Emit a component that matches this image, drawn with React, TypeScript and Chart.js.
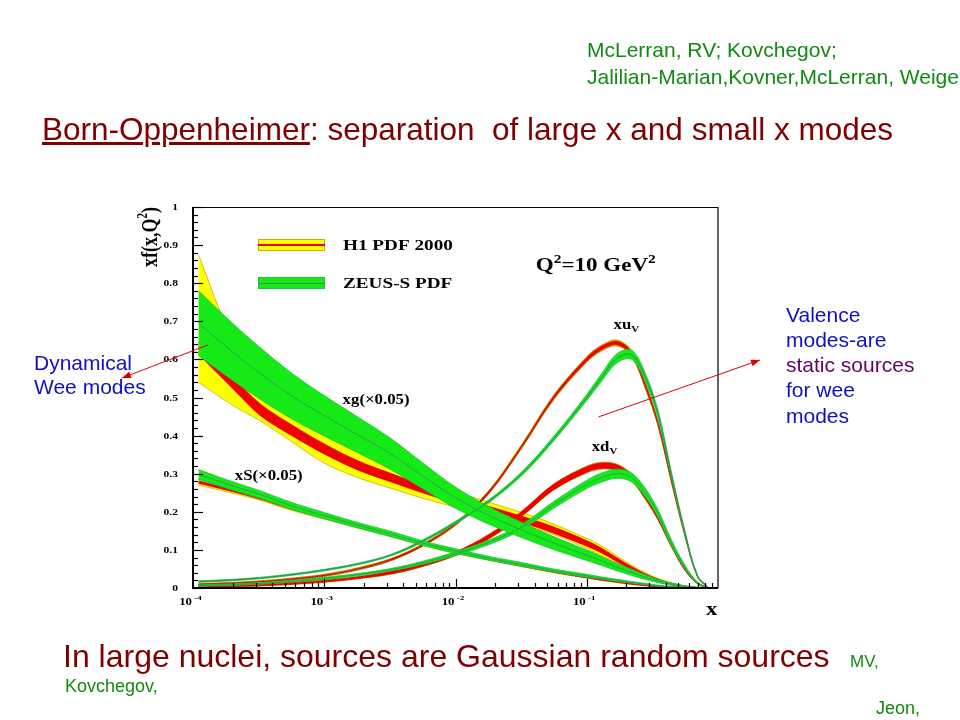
import React, { useEffect, useRef } from "react";
import { Chart, registerables } from "chart.js";

Chart.register(...registerables);

// ---- data (x grid shared by all curves) ----
const X_VALUES = [1.1e-4, 2e-4, 3.2e-4, 5.6e-4, 1e-3, 1.8e-3, 3.2e-3, 5.6e-3, 1e-2, 1.8e-2, 3.2e-2, 5.6e-2, 0.1, 0.13, 0.17, 0.22, 0.28, 0.35, 0.44, 0.56, 0.7, 0.85];

// gluon xg (x0.05)
const ZEUS_XG = [0.695, 0.62, 0.565, 0.505, 0.452, 0.402, 0.352, 0.295, 0.237, 0.19, 0.152, 0.118, 0.086, 0.071, 0.055, 0.041, 0.028, 0.018, 0.01, 0.004, 0.001, 0];
const ZEUS_XG_ERR = [0.085, 0.075, 0.068, 0.06, 0.053, 0.047, 0.041, 0.034, 0.028, 0.023, 0.02, 0.017, 0.014, 0.012, 0.01, 0.008, 0.006, 0.004, 0.003, 0.002, 0.001, 0];
const H1_XG = [0.63, 0.54, 0.47, 0.415, 0.365, 0.322, 0.29, 0.26, 0.232, 0.205, 0.18, 0.152, 0.117, 0.098, 0.074, 0.052, 0.034, 0.021, 0.011, 0.004, 0.001, 0];
const H1_XG_EXP = [0.016, 0.016, 0.015, 0.014, 0.013, 0.012, 0.011, 0.01, 0.009, 0.009, 0.008, 0.008, 0.007, 0.006, 0.005, 0.004, 0.003, 0.002, 0.0015, 0.001, 0.0005, 0];
const H1_XG_LO = [0.54, 0.48, 0.44, 0.385, 0.328, 0.29, 0.262, 0.236, 0.212, 0.188, 0.166, 0.14, 0.104, 0.084, 0.062, 0.043, 0.028, 0.017, 0.008, 0.003, 0.001, 0];
const H1_XG_HI = [0.875, 0.66, 0.6, 0.52, 0.455, 0.4, 0.352, 0.3, 0.255, 0.225, 0.198, 0.168, 0.13, 0.11, 0.084, 0.06, 0.04, 0.025, 0.014, 0.005, 0.001, 0];

// sea xS (x0.05)
const ZEUS_XS = [0.298, 0.268, 0.246, 0.216, 0.19, 0.165, 0.142, 0.118, 0.097, 0.078, 0.062, 0.046, 0.032, 0.026, 0.02, 0.015, 0.01, 0.006, 0.003, 0.001, 0, 0];
const ZEUS_XS_ERR = [0.013, 0.011, 0.01, 0.009, 0.008, 0.007, 0.007, 0.006, 0.006, 0.005, 0.005, 0.004, 0.004, 0.003, 0.003, 0.002, 0.002, 0.0015, 0.001, 0.0005, 0, 0];
const H1_XS = [0.278, 0.256, 0.237, 0.21, 0.186, 0.162, 0.139, 0.116, 0.095, 0.076, 0.059, 0.043, 0.028, 0.022, 0.016, 0.011, 0.007, 0.004, 0.002, 0.001, 0, 0];
const H1_XS_TOT = [0.008, 0.007, 0.006, 0.006, 0.005, 0.005, 0.004, 0.004, 0.004, 0.003, 0.003, 0.003, 0.002, 0.002, 0.002, 0.002, 0.001, 0.001, 0.001, 0.0005, 0, 0];
const H1_XS_EXP = [0.003, 0.003, 0.003, 0.003, 0.0025, 0.0025, 0.0025, 0.002, 0.002, 0.002, 0.002, 0.0015, 0.0015, 0.0015, 0.001, 0.001, 0.001, 0.001, 0.0005, 0.0005, 0, 0];

// valence xuV
const ZEUS_XUV = [0.017, 0.021, 0.026, 0.035, 0.047, 0.063, 0.086, 0.123, 0.172, 0.228, 0.3, 0.392, 0.5, 0.553, 0.603, 0.612, 0.552, 0.455, 0.3, 0.145, 0.03, 0];
const ZEUS_XUV_ERR = [0.002, 0.002, 0.002, 0.002, 0.002, 0.002, 0.002, 0.003, 0.003, 0.004, 0.005, 0.006, 0.008, 0.01, 0.012, 0.012, 0.011, 0.01, 0.008, 0.005, 0.002, 0];
const H1_XUV = [0.009, 0.012, 0.016, 0.023, 0.033, 0.05, 0.074, 0.112, 0.168, 0.252, 0.372, 0.5, 0.6, 0.63, 0.643, 0.615, 0.53, 0.43, 0.285, 0.14, 0.03, 0];
const H1_XUV_TOT = [0.003, 0.003, 0.003, 0.003, 0.003, 0.003, 0.003, 0.003, 0.004, 0.004, 0.005, 0.006, 0.007, 0.008, 0.008, 0.008, 0.007, 0.006, 0.005, 0.004, 0.002, 0];
const H1_XUV_EXP = [0.0015, 0.0015, 0.0015, 0.0015, 0.0015, 0.0015, 0.002, 0.002, 0.002, 0.003, 0.003, 0.004, 0.005, 0.005, 0.005, 0.005, 0.005, 0.004, 0.004, 0.003, 0.001, 0];

// valence xdV
const ZEUS_XDV = [0.006, 0.009, 0.012, 0.017, 0.025, 0.035, 0.048, 0.066, 0.09, 0.12, 0.16, 0.218, 0.272, 0.29, 0.3, 0.29, 0.25, 0.195, 0.12, 0.055, 0.013, 0];
const ZEUS_XDV_ERR = [0.002, 0.002, 0.002, 0.002, 0.003, 0.003, 0.003, 0.004, 0.005, 0.006, 0.007, 0.009, 0.011, 0.012, 0.012, 0.012, 0.011, 0.01, 0.008, 0.005, 0.002, 0];
const H1_XDV = [0.004, 0.006, 0.008, 0.012, 0.018, 0.027, 0.04, 0.06, 0.09, 0.135, 0.195, 0.265, 0.311, 0.321, 0.316, 0.29, 0.24, 0.185, 0.115, 0.05, 0.012, 0];
const H1_XDV_TOT = [0.003, 0.003, 0.003, 0.003, 0.003, 0.003, 0.004, 0.004, 0.005, 0.006, 0.007, 0.008, 0.009, 0.009, 0.009, 0.009, 0.008, 0.007, 0.006, 0.004, 0.002, 0];
const H1_XDV_EXP = [0.002, 0.002, 0.002, 0.002, 0.002, 0.002, 0.003, 0.003, 0.004, 0.005, 0.006, 0.007, 0.007, 0.007, 0.007, 0.007, 0.006, 0.006, 0.005, 0.003, 0.001, 0];

// axes
const Y_TICKS = [0, 0.1, 0.2, 0.3, 0.4, 0.5, 0.6, 0.7, 0.8, 0.9, 1];
const Y_TICK_LABELS = ["0", "0.1", "0.2", "0.3", "0.4", "0.5", "0.6", "0.7", "0.8", "0.9", "1"];
const X_TICKS = [1e-4, 1e-3, 1e-2, 1e-1];
const X_TICK_EXPONENTS = ["-4", "-3", "-2", "-1"];

// ---- styles ----
const YELLOW = "#ffff00";
const YELLOW_EDGE = "#c8b000";
const RED = "#f20000";
const RED_EDGE = "#d80000";
const GREEN = "#16ea16";
const GREEN_EDGE = "#20c040";
const TEAL = "#2f8f62";
const SERIF = '"Liberation Serif", "Times New Roman", serif';
const SX = 1.28;

const pts = (ys: number[]) => X_VALUES.map((x, i) => ({ x, y: ys[i] }));
const shift = (c: number[], e: number[], s: number) => c.map((v, i) => Math.max(0, v + s * e[i]));

function band(lo: number[], hi: number[], fill: string, edge: string, order: number, edgeWidth = 0.8) {
  return [
    { data: pts(lo), borderColor: edge, borderWidth: edgeWidth, backgroundColor: fill, fill: false, pointRadius: 0, order },
    { data: pts(hi), borderColor: edge, borderWidth: edgeWidth, backgroundColor: fill, fill: "-1", pointRadius: 0, order },
  ];
}
function line(c: number[], color: string, order: number, width = 1) {
  return { data: pts(c), borderColor: color, borderWidth: width, fill: false, pointRadius: 0, order };
}

function runs(ctx: CanvasRenderingContext2D, parts: [string, number, number][], x: number, y: number, sx: number, measureOnly = false) {
  let cx = x;
  for (const [t, size, dy] of parts) {
    ctx.font = `bold ${size}px ${SERIF}`;
    if (!measureOnly) {
      ctx.save();
      ctx.translate(cx, y + dy);
      ctx.scale(sx, 1);
      ctx.fillText(t, 0, 0);
      ctx.restore();
    }
    cx += ctx.measureText(t).width * sx;
  }
  return cx - x;
}

const overlay = {
  id: "overlay",
  afterDraw(chart: any) {
    const { ctx, chartArea: a, scales } = chart;
    const xs = scales.x;
    const ys = scales.y;
    ctx.save();
    ctx.fillStyle = "#000";
    ctx.strokeStyle = "#000";
    ctx.textAlign = "left";
    ctx.textBaseline = "alphabetic";

    // frame
    ctx.lineWidth = 1.2;
    ctx.beginPath();
    ctx.moveTo(a.left, a.top + 0.5);
    ctx.lineTo(a.right, a.top + 0.5);
    ctx.lineTo(a.right, a.bottom);
    ctx.stroke();
    ctx.lineWidth = 2;
    ctx.beginPath();
    ctx.moveTo(a.left, a.top);
    ctx.lineTo(a.left, a.bottom);
    ctx.lineTo(a.right, a.bottom);
    ctx.stroke();

    // y ticks
    ctx.lineWidth = 1.2;
    for (let i = 0; i <= 50; i++) {
      const py = Math.round(ys.getPixelForValue(i * 0.02)) + 0.5;
      const len = i % 5 === 0 ? 10 : 5;
      ctx.beginPath();
      ctx.moveTo(a.left, py);
      ctx.lineTo(a.left + len, py);
      ctx.stroke();
    }
    // y labels
    Y_TICKS.forEach((v, i) => {
      const py = ys.getPixelForValue(v);
      const t = Y_TICK_LABELS[i];
      ctx.font = `bold 9px ${SERIF}`;
      const w = ctx.measureText(t).width * SX;
      runs(ctx, [[t, 9, 0]], a.left - 15 - w, py + 3, SX);
    });
    // x ticks
    for (let d = 0; d < X_TICKS.length; d++) {
      for (let m = 1; m <= 9; m++) {
        const v = X_TICKS[d] * m;
        const px = Math.round(xs.getPixelForValue(v)) + 0.5;
        const len = m === 1 ? 9 : 5;
        ctx.beginPath();
        ctx.moveTo(px, a.bottom);
        ctx.lineTo(px, a.bottom - len);
        ctx.stroke();
      }
    }
    // x labels
    X_TICKS.forEach((v, i) => {
      const px = xs.getPixelForValue(v);
      ctx.font = `bold 10px ${SERIF}`;
      const w = ctx.measureText("10").width * SX;
      runs(ctx, [["10", 10, 0], [" " + X_TICK_EXPONENTS[i], 7, -5]], px - w - 1, a.bottom + 17, SX);
    });
    runs(ctx, [["x", 19, 0]], a.right - 12, a.bottom + 27, 1.2);

    // y title (rotated)
    ctx.save();
    ctx.translate(a.left - 36, a.top + 30);
    ctx.rotate(-Math.PI / 2);
    ctx.scale(1, 1.3);
    const tParts: [string, number, number][] = [["xf(x,Q", 18, 0], ["2", 11, -8], [")", 18, 0]];
    const tw = runs(ctx, tParts, 0, 0, 1, true);
    runs(ctx, tParts, -tw / 2, 0, 1);
    ctx.restore();

    // legend
    const lx = a.left + 65;
    ctx.fillStyle = YELLOW;
    ctx.fillRect(lx, a.top + 32, 67, 12);
    ctx.strokeStyle = YELLOW_EDGE;
    ctx.lineWidth = 1;
    ctx.strokeRect(lx + 0.5, a.top + 32.5, 66, 11);
    ctx.fillStyle = RED;
    ctx.fillRect(lx, a.top + 37, 67, 2);
    ctx.fillStyle = GREEN;
    ctx.fillRect(lx, a.top + 70, 67, 12);
    ctx.strokeStyle = GREEN_EDGE;
    ctx.strokeRect(lx + 0.5, a.top + 70.5, 66, 11);
    ctx.strokeStyle = TEAL;
    ctx.beginPath();
    ctx.moveTo(lx, a.top + 76.5);
    ctx.lineTo(lx + 67, a.top + 76.5);
    ctx.stroke();
    ctx.fillStyle = "#000";
    runs(ctx, [["H1 PDF 2000", 15, 0]], a.left + 150, a.top + 43, SX);
    runs(ctx, [["ZEUS-S PDF", 15, 0]], a.left + 150, a.top + 81, SX);

    // Q2 label
    runs(ctx, [["Q", 18, 0], ["2", 12, -8], ["=10 GeV", 18, 0], ["2", 12, -8]], xs.getPixelForValue(0.0409), ys.getPixelForValue(0.832), SX);

    // curve labels
    runs(ctx, [["xg(\u00d70.05)", 14, 0]], xs.getPixelForValue(1.38e-3), ys.getPixelForValue(0.483), 1.2);
    runs(ctx, [["xS(\u00d70.05)", 14, 0]], xs.getPixelForValue(2.08e-4), ys.getPixelForValue(0.283), 1.2);
    runs(ctx, [["xu", 14, 0], ["V", 9, 3]], xs.getPixelForValue(0.16), ys.getPixelForValue(0.68), 1.2);
    runs(ctx, [["xd", 14, 0], ["V", 9, 3]], xs.getPixelForValue(0.109), ys.getPixelForValue(0.36), 1.2);

    // annotation arrows
    const arrow = (x1: number, y1: number, x2: number, y2: number) => {
      ctx.strokeStyle = "#e00000";
      ctx.fillStyle = "#e00000";
      ctx.lineWidth = 1;
      ctx.beginPath();
      ctx.moveTo(x1, y1);
      ctx.lineTo(x2, y2);
      ctx.stroke();
      const ang = Math.atan2(y2 - y1, x2 - x1);
      const L = 9, W = 3.5;
      ctx.beginPath();
      ctx.moveTo(x2, y2);
      ctx.lineTo(x2 - L * Math.cos(ang) + W * Math.sin(ang), y2 - L * Math.sin(ang) - W * Math.cos(ang));
      ctx.lineTo(x2 - L * Math.cos(ang) - W * Math.sin(ang), y2 - L * Math.sin(ang) + W * Math.cos(ang));
      ctx.closePath();
      ctx.fill();
    };
    arrow(xs.getPixelForValue(1.3e-4), ys.getPixelForValue(0.638), 122, 378);
    arrow(xs.getPixelForValue(0.123), ys.getPixelForValue(0.449), 760, 360);
    ctx.restore();
  },
};

export default function App() {
  const ref = useRef<HTMLCanvasElement | null>(null);
  useEffect(() => {
    if (!ref.current) return;
    const datasets: any[] = [
      // H1 total uncertainty (yellow)
      ...band(H1_XG_LO, H1_XG_HI, YELLOW, YELLOW_EDGE, 50),
      ...band(shift(H1_XS, H1_XS_TOT, -1), shift(H1_XS, H1_XS_TOT, 1), YELLOW, YELLOW_EDGE, 50),
      ...band(shift(H1_XUV, H1_XUV_TOT, -1), shift(H1_XUV, H1_XUV_TOT, 1), YELLOW, "#b98a00", 50),
      ...band(shift(H1_XDV, H1_XDV_TOT, -1), shift(H1_XDV, H1_XDV_TOT, 1), YELLOW, "#b98a00", 50),
      // H1 experimental uncertainty (red)
      ...band(shift(H1_XG, H1_XG_EXP, -1), shift(H1_XG, H1_XG_EXP, 1), RED, RED_EDGE, 40),
      ...band(shift(H1_XS, H1_XS_EXP, -1), shift(H1_XS, H1_XS_EXP, 1), RED, RED_EDGE, 40),
      ...band(shift(H1_XUV, H1_XUV_EXP, -1), shift(H1_XUV, H1_XUV_EXP, 1), RED, "#b03000", 40),
      ...band(shift(H1_XDV, H1_XDV_EXP, -1), shift(H1_XDV, H1_XDV_EXP, 1), RED, RED_EDGE, 40),
      // ZEUS-S (green)
      ...band(shift(ZEUS_XG, ZEUS_XG_ERR, -1), shift(ZEUS_XG, ZEUS_XG_ERR, 1), GREEN, GREEN_EDGE, 30),
      ...band(shift(ZEUS_XS, ZEUS_XS_ERR, -1), shift(ZEUS_XS, ZEUS_XS_ERR, 1), GREEN, GREEN_EDGE, 30),
      ...band(shift(ZEUS_XUV, ZEUS_XUV_ERR, -1), shift(ZEUS_XUV, ZEUS_XUV_ERR, 1), GREEN, GREEN_EDGE, 30),
      ...band(shift(ZEUS_XDV, ZEUS_XDV_ERR, -1), shift(ZEUS_XDV, ZEUS_XDV_ERR, 1), GREEN, GREEN_EDGE, 30),
      // ZEUS central lines
      line(ZEUS_XG, TEAL, 20, 0.8),
      line(ZEUS_XS, TEAL, 20, 0.8),
      line(ZEUS_XUV, TEAL, 20, 1),
      line(ZEUS_XDV, TEAL, 20, 0.8),
    ];
    const chart = new Chart(ref.current, {
      type: "line",
      data: { datasets },
      options: {
        animation: false,
        responsive: false,
        devicePixelRatio: 1,
        layout: { padding: { left: 193, top: 207, right: 242, bottom: 132 } },
        elements: { line: { cubicInterpolationMode: "default", tension: 0.35, capBezierPoints: true }, point: { radius: 0 } },
        scales: {
          x: { type: "logarithmic", min: 1e-4, max: 1, display: false },
          y: { type: "linear", min: 0, max: 1, display: false },
        },
        plugins: { legend: { display: false }, tooltip: { enabled: false } },
      },
      plugins: [overlay],
    } as any);
    return () => chart.destroy();
  }, []);

  const sans = '"Liberation Sans", Arial, sans-serif';
  const abs = (l: number, t: number, size: number, color: string, extra: any = {}) => ({
    position: "absolute" as const, left: l, top: t, fontSize: size, lineHeight: `${size}px`, color, whiteSpace: "nowrap" as const, fontFamily: sans, ...extra,
  });
  const GREEN_TXT = "#128a12";
  const BLUE_TXT = "#1010c0";
  const DARK_RED = "#800000";

  return (
    <div style={{ position: "absolute", left: 0, top: 0, width: 960, height: 720, overflow: "hidden", background: "#fff" }}>
      <canvas ref={ref} width={960} height={720} style={{ position: "absolute", left: 0, top: 0, width: 960, height: 720 }} />
      <div style={abs(587, 37, 21, GREEN_TXT, { lineHeight: "26.7px" })}>
        McLerran, RV; Kovchegov;<br />Jalilian-Marian,Kovner,McLerran, Weigert
      </div>
      <div style={abs(42, 114, 31.5, DARK_RED)}>
        <span style={{ textDecoration: "underline" }}>Born-Oppenheimer</span>: separation&nbsp; of large x and small x modes
      </div>
      <div style={abs(34, 350.5, 21, BLUE_TXT, { lineHeight: "24px" })}>
        Dynamical<br />Wee modes
      </div>
      <div style={abs(786, 301.8, 21, BLUE_TXT, { lineHeight: "25.2px" })}>
        Valence<br />modes-are<br /><span style={{ color: "#660066" }}>static sources</span><br />for wee<br />modes
      </div>
      <div style={abs(63, 639.6, 32, DARK_RED)}>In large nuclei, sources are Gaussian random sources</div>
      <div style={abs(850, 652.6, 17, GREEN_TXT)}>MV,</div>
      <div style={abs(65, 676.5, 18, GREEN_TXT)}>Kovchegov,</div>
      <div style={abs(876, 698.8, 18, GREEN_TXT)}>Jeon,</div>
    </div>
  );
}
